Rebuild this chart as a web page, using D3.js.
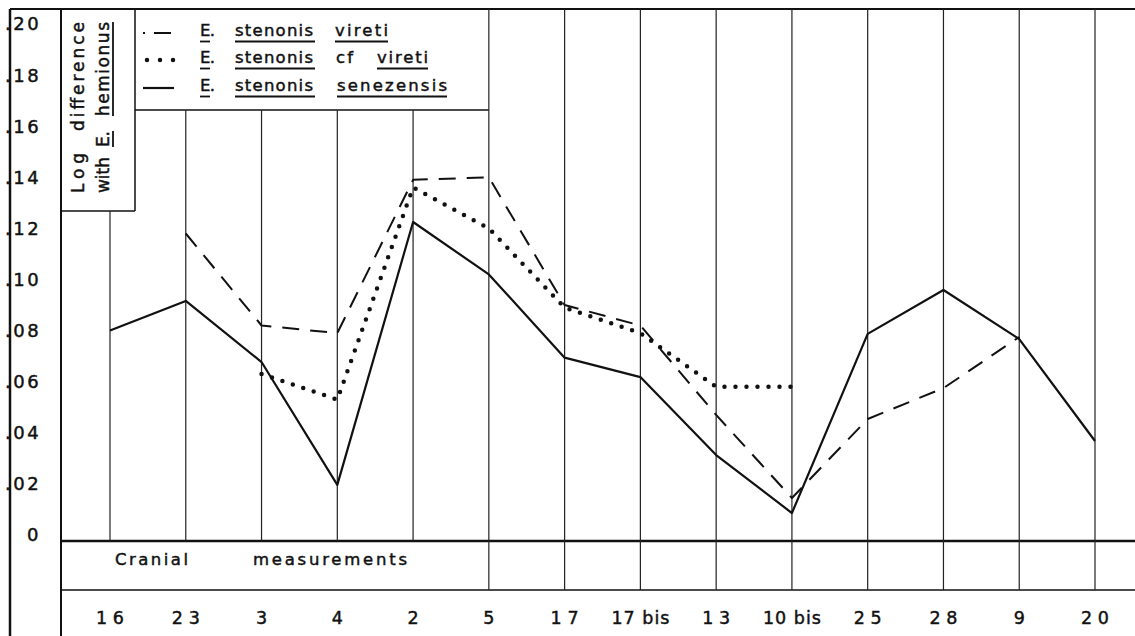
<!DOCTYPE html>
<html>
<head>
<meta charset="utf-8">
<script src="https://cdn.jsdelivr.net/npm/d3@7"></script>
<style>
  body { margin: 0; background: #fff; }
  text { font-family: "DejaVu Sans", sans-serif; fill: #111; stroke: #111; stroke-width: 0.45; }
</style>
</head>
<body>
<div class="chart"></div>
<script>
// cranial measurements along the bottom
const categories = ["16", "23", "3", "4", "2", "5", "17", "17 bis", "13", "10 bis", "25", "28", "9", "20"];

// log difference with E. hemionus
const vireti     = [null, 0.118, 0.082, 0.079, 0.139, 0.140, 0.090, 0.082, 0.047, 0.0145, 0.0454, 0.0575, 0.0775, null];
const cfVireti   = [null, null, 0.063, 0.053, 0.136, 0.120, 0.089, 0.079, 0.058, 0.058, null, null, null, null];
const senezensis = [0.080, 0.0916, 0.0677, 0.0196, 0.1225, 0.102, 0.0694, 0.0618, 0.0313, 0.0086, 0.0787, 0.0959, 0.0767, 0.0368];

const yTicks = [0, 0.02, 0.04, 0.06, 0.08, 0.10, 0.12, 0.14, 0.16, 0.18, 0.20];

const width = 1135, height = 636;

const svg = d3.select(".chart").append("svg")
    .attr("width", width)
    .attr("height", height);

// scales
const x = d3.scalePoint().domain(categories).range([110, 1095]);
const y = d3.scaleLinear().domain([0, 0.2]).range([535, 24]);

// frame geometry
const frameTop = 9, frameLeft = 10, innerLeft = 61;
const zeroLine = 541, labelLine = 590;
const titleBox = {right: 135, bottom: 211};
const legendBottom = 110;

const frame = svg.append("g")
    .attr("stroke", "#111")
    .attr("fill", "none");

function hline(y0, x0, x1, w) {
    frame.append("line").attr("x1", x0).attr("x2", x1).attr("y1", y0).attr("y2", y0).attr("stroke-width", w);
}
function vline(x0, y0, y1, w) {
    frame.append("line").attr("x1", x0).attr("x2", x0).attr("y1", y0).attr("y2", y1).attr("stroke-width", w);
}

hline(frameTop, frameLeft, width, 2);
vline(frameLeft, frameTop, height, 2.5);
vline(innerLeft, frameTop, height, 2);
vline(titleBox.right, frameTop, titleBox.bottom, 1.5);
hline(titleBox.bottom, innerLeft, titleBox.right, 1.5);
hline(legendBottom, titleBox.right, x("5"), 1.5);
hline(zeroLine, innerLeft, width, 2.5);
hline(labelLine, innerLeft, width, 1.3);

// vertical grid line at every measurement
svg.append("g")
    .selectAll("line")
    .data(categories)
    .join("line")
    .attr("x1", d => x(d))
    .attr("x2", d => x(d))
    .attr("y1", (d, i) => i === 0 ? titleBox.bottom : (i < 5 ? legendBottom : frameTop))
    .attr("y2", (d, i) => i < 5 ? zeroLine : labelLine)
    .attr("stroke", "#222")
    .attr("stroke-width", 1.2);

// small helper: text stretched to a given length
function stretched(sel, len) {
    if (len) sel.attr("textLength", len).attr("lengthAdjust", "spacing");
    return sel;
}

// y tick labels
svg.append("g")
    .selectAll("text")
    .data(yTicks)
    .join("text")
    .attr("x", d => d === 0 ? 27 : 5)
    .attr("y", d => y(d))
    .attr("dy", "0.36em")
    .attr("font-size", 18)
    .attr("letter-spacing", 2.5)
    .text(d => d === 0 ? "0" : d3.format(".2f")(d).slice(1));

// bottom labels
svg.append("g")
    .selectAll("text")
    .data(categories)
    .join("text")
    .attr("x", d => x(d) - (d.length === 1 ? 0 : (d.length > 3 ? 29 : 14)))
    .attr("y", 618)
    .attr("dy", "0.36em")
    .attr("text-anchor", d => d.length === 1 ? "middle" : "start")
    .attr("font-size", 17.5)
    .text(d => d)
    .each(function(d) { if (d.length > 1) stretched(d3.select(this), d.length > 3 ? 58 : 28); });

stretched(svg.append("text")
    .attr("x", 115).attr("y", 559).attr("dy", "0.36em")
    .attr("font-size", 16.5)
    .text("Cranial"), 73);
stretched(svg.append("text")
    .attr("x", 253).attr("y", 559).attr("dy", "0.36em")
    .attr("font-size", 16.5)
    .text("measurements"), 154);

// series
const series = [
    {name: "vireti", values: vireti, dash: "17,11", width: 2, cap: "butt"},
    {name: "cf vireti", values: cfVireti, dash: "0,11", width: 4.5, cap: "round"},
    {name: "senezensis", values: senezensis, dash: null, width: 2.2, cap: "butt"}
];

const line = d3.line()
    .defined(d => d.v != null)
    .x(d => x(d.c))
    .y(d => y(d.v));

svg.append("g")
    .selectAll("path")
    .data(series)
    .join("path")
    .attr("fill", "none")
    .attr("stroke", "#111")
    .attr("stroke-width", d => d.width)
    .attr("stroke-dasharray", d => d.dash)
    .attr("stroke-linecap", d => d.cap)
    .attr("stroke-linejoin", "round")
    .attr("d", d => line(d.values.map((v, i) => ({c: categories[i], v}))));

// legend: [word, x, length, underline length]
const legendRows = [
    {words: [["E.", 200, 15, 10], ["stenonis", 235, 78, 80], ["vireti", 335, 53, 53]],
     dash: "2,9,17,100", width: 2, cap: "butt", sampleY: 33},
    {words: [["E.", 200, 15, 10], ["stenonis", 235, 78, 80], ["cf", 336, 17, 0], ["vireti", 377, 51, 51]],
     dash: "0,13", width: 4.5, cap: "round", sampleY: 60},
    {words: [["E.", 200, 15, 10], ["stenonis", 235, 78, 80], ["senezensis", 337, 110, 110]],
     dash: null, width: 2.2, cap: "butt", sampleY: 88}
];
const baselines = [36, 63, 91];

const legend = svg.append("g");
legendRows.forEach((row, r) => {
    legend.append("line")
        .attr("x1", row.cap === "round" ? 147 : 143).attr("x2", 174)
        .attr("y1", row.sampleY).attr("y2", row.sampleY)
        .attr("stroke", "#111")
        .attr("stroke-width", row.width)
        .attr("stroke-dasharray", row.dash)
        .attr("stroke-linecap", row.cap);
    row.words.forEach(([w, wx, len, ul]) => {
        stretched(legend.append("text")
            .attr("x", wx).attr("y", baselines[r])
            .attr("font-size", 16.5)
            .text(w), len);
        if (ul) {
            legend.append("line")
                .attr("x1", wx).attr("x2", wx + ul)
                .attr("y1", baselines[r] + 5.5).attr("y2", baselines[r] + 5.5)
                .attr("stroke", "#111").attr("stroke-width", 1.8);
        }
    });
});

// rotated axis title
const title = svg.append("g");
function rotWord(str, bx, y0, len, under) {
    stretched(title.append("text")
        .attr("transform", `translate(${bx},${y0}) rotate(-90)`)
        .attr("font-size", 17)
        .text(str), len);
    if (under) {
        title.append("line")
            .attr("x1", bx + 4).attr("x2", bx + 4)
            .attr("y1", y0).attr("y2", y0 - len)
            .attr("stroke", "#111").attr("stroke-width", 1.8);
    }
}
rotWord("Log", 84, 193, 40, false);
rotWord("difference", 84, 131, 109, false);
rotWord("with", 109, 193, 36, false);
rotWord("E.", 109, 147, 16, true);
rotWord("hemionus", 109, 116, 94, true);
</script>
</body>
</html>
